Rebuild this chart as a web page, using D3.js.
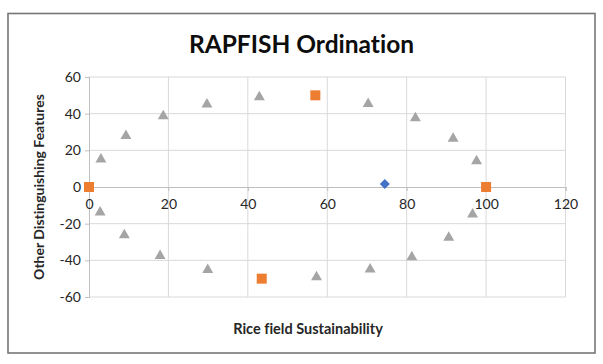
<!DOCTYPE html>
<html><head><meta charset="utf-8">
<script src="https://cdn.jsdelivr.net/npm/d3@7"></script>
<style>body{margin:0;background:#fff}svg{display:block}text{font-family:Lato,"Open Sans",sans-serif;font-variant-ligatures:none}</style>
</head><body>
<script>
const title = "RAPFISH Ordination";
const xTitle = "Rice field Sustainability";
const yTitle = "Other Distinguishing Features";
const xTicks = [0, 20, 40, 60, 80, 100, 120];
const yTicks = [-60, -40, -20, 0, 20, 40, 60];
// gray triangles (reference points)
const refX = [3.0, 9.3, 18.7, 29.7, 42.9, 70.3, 82.2, 91.7, 97.6, 2.8, 8.9, 17.9, 29.9, 57.3, 70.8, 81.3, 90.6, 96.6];
const refY = [15.3, 28.2, 38.9, 45.4, 49.3, 45.6, 37.8, 26.7, 14.4, -13.5, -26.0, -37.3, -44.9, -48.9, -44.7, -38.0, -27.3, -14.7];
// orange squares (anchors)
const anchorX = [0, 57, 100, 43.5];
const anchorY = [0, 50, 0, -50];
// blue diamond (rice field)
const fieldX = [74.5];
const fieldY = [1.6];

const W = 603, H = 364;
const svg = d3.select("body").append("svg").attr("width", W).attr("height", H);
svg.append("rect").attr("x", 8).attr("y", 13.5).attr("width", 587).attr("height", 339.5)
  .attr("fill", "#fff").attr("stroke", "#767676").attr("stroke-width", 1.6);

const x = d3.scaleLinear().domain([0, 120]).range([89, 565.5]);
const y = d3.scaleLinear().domain([-60, 60]).range([297, 77]);

// gridlines
svg.append("g").selectAll("line").data(xTicks.filter(d => d !== 0)).join("line")
  .attr("x1", d => x(d)).attr("x2", d => x(d)).attr("y1", y(60)).attr("y2", y(-60))
  .attr("stroke", "#d9d9d9").attr("stroke-width", 1);
svg.append("g").selectAll("line").data(yTicks.filter(d => d !== 0)).join("line")
  .attr("x1", x(0)).attr("x2", x(120)).attr("y1", d => y(d)).attr("y2", d => y(d))
  .attr("stroke", "#d9d9d9").attr("stroke-width", 1);

// y axis at x=0
const yAxis = d3.axisLeft(y).tickValues(yTicks).tickSize(4).tickPadding(4);
const gy = svg.append("g").attr("transform", `translate(${x(0)},0)`).call(yAxis);
gy.select(".domain").attr("stroke", "#bfbfbf");
gy.selectAll(".tick line").attr("stroke", "#bfbfbf");
gy.selectAll("text").attr("font-size", 14).attr("fill", "#262626").attr("font-family", "Lato")
  .text(d => d < 0 ? "-" + Math.abs(d) : d);

// x axis at y=0
const xAxis = d3.axisBottom(x).tickValues(xTicks).tickSize(4).tickPadding(8);
const gx = svg.append("g").attr("transform", `translate(0,${y(0)})`).call(xAxis);
gx.select(".domain").attr("stroke", "#bfbfbf");
gx.selectAll(".tick line").attr("stroke", "#bfbfbf");
gx.selectAll("text").attr("font-size", 14).attr("fill", "#262626").attr("font-family", "Lato");

// markers
const tri = d3.symbol().type(d3.symbolTriangle).size(52);
svg.append("g").selectAll("path").data(refX.map((v, i) => [v, refY[i]])).join("path")
  .attr("d", tri).attr("transform", d => `translate(${x(d[0])},${y(d[1]) + 0.5})`)
  .attr("fill", "#a5a5a5");
svg.append("g").selectAll("rect").data(anchorX.map((v, i) => [v, anchorY[i]])).join("rect")
  .attr("x", d => x(d[0]) - 5).attr("y", d => y(d[1]) - 5).attr("width", 10).attr("height", 10)
  .attr("fill", "#ed7d31");
const dia = d3.symbol().type(d3.symbolDiamond2).size(64);
svg.append("g").selectAll("path").data(fieldX.map((v, i) => [v, fieldY[i]])).join("path")
  .attr("d", dia).attr("transform", d => `translate(${x(d[0])},${y(d[1])})`)
  .attr("fill", "#4472c4");

// titles
svg.append("text").attr("x", 301.5).attr("y", 52.5).attr("text-anchor", "middle")
  .attr("font-size", 24.5).attr("font-weight", "bold").attr("fill", "#0d0d0d").text(title);
svg.append("text").attr("x", 308).attr("y", 334).attr("text-anchor", "middle")
  .attr("font-size", 14.5).attr("font-weight", "bold").attr("fill", "#262626").text(xTitle);
svg.append("text").attr("transform", "translate(44,187) rotate(-90)").attr("text-anchor", "middle")
  .attr("font-size", 14).attr("font-weight", "bold").attr("fill", "#262626").text(yTitle);
</script>
</body></html>
